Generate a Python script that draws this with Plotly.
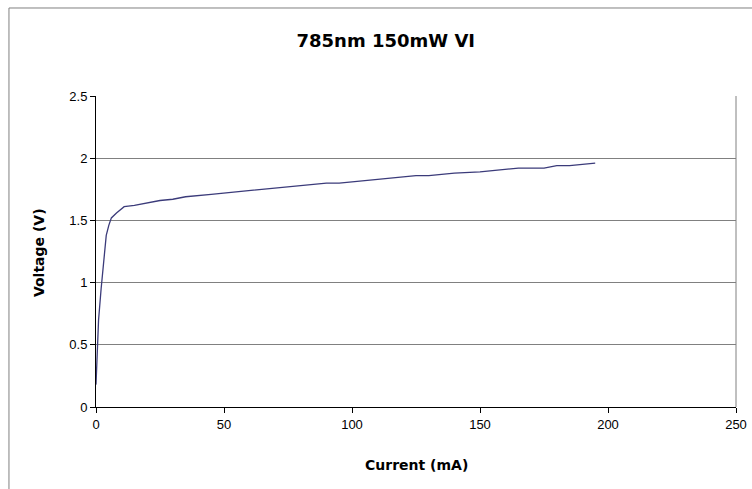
import plotly.graph_objects as go

current_mA = [0, 0.5, 1, 2, 3, 4, 5, 6, 8, 11, 15, 20, 25, 30, 35, 45, 55, 65, 75,
              85, 90, 95, 105, 115, 125, 130, 140, 150, 160, 165, 175, 180, 185, 195]
voltage_V = [0.18, 0.5, 0.7, 0.95, 1.2, 1.38, 1.46, 1.52, 1.56, 1.61, 1.62, 1.64, 1.66,
             1.67, 1.69, 1.71, 1.73, 1.75, 1.77, 1.79, 1.80, 1.80, 1.82, 1.84, 1.86,
             1.86, 1.88, 1.89, 1.91, 1.92, 1.92, 1.94, 1.94, 1.96]
x_ticks = [0, 50, 100, 150, 200, 250]
y_ticks = [0, 0.5, 1, 1.5, 2, 2.5]
y_tick_text = ["0", "0.5", "1", "1.5", "2", "2.5"]

title_font = dict(family="DejaVu Sans, sans-serif", color="black")

fig = go.Figure()
fig.add_trace(go.Scatter(x=current_mA, y=voltage_V, mode="lines",
                         line=dict(color="#3b3b7a", width=1.3), showlegend=False))

fig.update_layout(
    autosize=False, width=752, height=489,
    margin=dict(l=96, r=16, t=96, b=82),
    paper_bgcolor="white", plot_bgcolor="white",
    title=dict(text="<b>785nm 150mW VI</b>", x=0.513, xanchor="center", y=0.916, yanchor="middle",
               font=dict(size=18, **title_font)),
    font=dict(family="Liberation Sans, Arial, sans-serif", size=13, color="black"),
    xaxis=dict(range=[0, 250], tickvals=x_ticks, ticks="outside", ticklen=5,
               tickcolor="black", showline=True, linecolor="black", linewidth=1,
               showgrid=False, zeroline=False, ticklabeloverflow="allow", automargin=False,
               tickfont=dict(size=13, color="black")),
    yaxis=dict(range=[0, 2.5], tickvals=y_ticks, ticktext=y_tick_text, ticks="outside",
               ticklen=5, tickcolor="black", showline=True, linecolor="black", linewidth=1,
               showgrid=True, gridcolor="#808080", gridwidth=1, zeroline=False, automargin=False,
               tickfont=dict(size=13, color="black")),
    annotations=[
        dict(text="<b>Current (mA)</b>", xref="paper", yref="paper", x=0.5, y=-0.1865,
             xanchor="center", yanchor="middle", showarrow=False, font=dict(size=14, **title_font)),
        dict(text="<b>Voltage (V)</b>", xref="paper", yref="paper", x=-0.089, y=0.495,
             xanchor="center", yanchor="middle", textangle=-90, showarrow=False,
             font=dict(size=14, **title_font)),
    ],
    shapes=[
        dict(type="line", xref="paper", yref="paper", x0=1, x1=1, y0=0, y1=1,
             line=dict(color="#808080", width=1)),
        dict(type="rect", xref="paper", yref="paper", x0=-0.136, x1=1.1, y0=-0.4, y1=1.283,
             line=dict(color="#808080", width=1), layer="below"),
    ],
)

fig.write_html("out.html", config={"displayModeBar": False, "responsive": False},
               post_script="document.body.style.margin='0';document.body.style.overflow='hidden';")
